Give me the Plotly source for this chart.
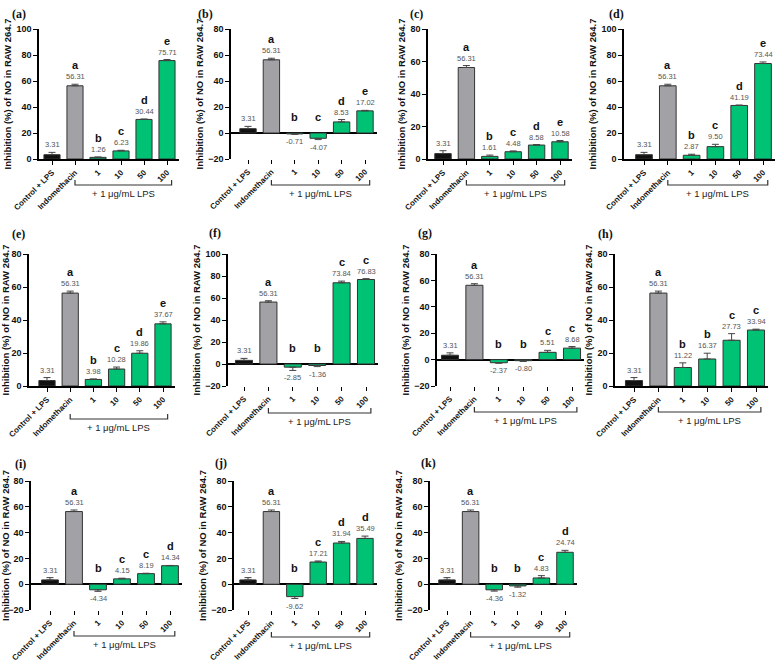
import plotly.graph_objects as go

categories = ["Control + LPS", "Indomethacin", "1", "10", "50", "100"]
panel_labels = ["(a)", "(b)", "(c)", "(d)", "(e)", "(f)", "(g)", "(h)", "(i)", "(j)", "(k)"]

values_a = [3.31, 56.31, 1.26, 6.23, 30.44, 75.71]
values_b = [3.31, 56.31, -0.71, -4.07, 8.53, 17.02]
values_c = [3.31, 56.31, 1.61, 4.48, 8.58, 10.58]
values_d = [3.31, 56.31, 2.87, 9.50, 41.19, 73.44]
values_e = [3.31, 56.31, 3.98, 10.28, 19.86, 37.67]
values_f = [3.31, 56.31, -2.85, -1.36, 73.84, 76.83]
values_g = [3.31, 56.31, -2.37, -0.80, 5.51, 8.68]
values_h = [3.31, 56.31, 11.22, 16.37, 27.73, 33.94]
values_i = [3.31, 56.31, -4.34, 4.15, 8.19, 14.34]
values_j = [3.31, 56.31, -9.62, 17.21, 31.94, 35.49]
values_k = [3.31, 56.31, -4.36, -1.32, 4.83, 24.74]

errors_a = [1.8, 1.2, 0.3, 0.5, 0.3, 0.8]
errors_b = [1.8, 1.2, 0.3, 1.0, 1.8, 0.4]
errors_c = [1.8, 1.2, 0.8, 0.5, 0.3, 0.8]
errors_d = [1.8, 1.2, 0.8, 1.8, 0.3, 1.2]
errors_e = [1.8, 1.2, 0.3, 1.2, 1.5, 1.2]
errors_f = [1.8, 1.2, 3.0, 1.0, 1.5, 0.8]
errors_g = [1.8, 1.2, 0.4, 0.6, 1.5, 1.2]
errors_h = [1.8, 1.2, 2.8, 3.5, 4.0, 0.5]
errors_i = [1.8, 1.2, 1.2, 0.5, 0.3, 0.2]
errors_j = [1.8, 1.2, 1.5, 0.8, 1.2, 1.8]
errors_k = [1.8, 1.2, 1.0, 1.0, 1.8, 1.5]

letters_a = ["", "a", "b", "c", "d", "e"]
letters_b = ["", "a", "b", "c", "d", "e"]
letters_c = ["", "a", "b", "c", "d", "e"]
letters_d = ["", "a", "b", "c", "d", "e"]
letters_e = ["", "a", "b", "c", "d", "e"]
letters_f = ["", "a", "b", "b", "c", "c"]
letters_g = ["", "a", "b", "b", "c", "c"]
letters_h = ["", "a", "b", "b", "c", "c"]
letters_i = ["", "a", "b", "c", "c", "d"]
letters_j = ["", "a", "b", "c", "d", "d"]
letters_k = ["", "a", "b", "b", "c", "d"]

yranges = [(0, 100), (-20, 80), (0, 80), (0, 100),
           (0, 80), (-20, 100), (-20, 80), (0, 80),
           (-20, 80), (-20, 80), (-20, 80)]

all_values = [values_a, values_b, values_c, values_d, values_e, values_f,
              values_g, values_h, values_i, values_j, values_k]
all_errors = [errors_a, errors_b, errors_c, errors_d, errors_e, errors_f,
              errors_g, errors_h, errors_i, errors_j, errors_k]
all_letters = [letters_a, letters_b, letters_c, letters_d, letters_e, letters_f,
               letters_g, letters_h, letters_i, letters_j, letters_k]

# layout geometry (pixels): axis_x, first bar centre, bar spacing, top, bottom
W, H = 783, 665
geom = [(39, 52, 23.0, 29, 159), (231, 248, 23.4, 29, 159), (428, 443, 23.4, 29, 159), (624, 644, 23.8, 29, 159),
        (29, 47, 23.2, 254, 386), (228, 244, 24.4, 254, 386), (437, 450, 24.4, 254, 386), (615, 634, 24.4, 254, 386),
        (31, 50, 24.0, 481, 610), (234, 248, 23.4, 481, 610), (430, 447, 23.6, 481, 610)]
label_pos = [(19, 14), (205, 14), (416, 14), (616, 14),
             (18, 234), (215, 233), (425, 233), (605, 234),
             (20, 464), (221, 463), (428, 463)]
bracket_off = [26, 26, 26, 26, 33, 27, 26, 26, 26, 27, 27]

colors = ["#111111", "#a2a2a6", "#00c274", "#00c274", "#00c274", "#00c274"]
FONT = "Liberation Sans, Arial, sans-serif"

fig = go.Figure()
annotations = []
shapes = []

for i in range(11):
    n = "" if i == 0 else str(i + 1)
    xa, ya = "x" + n, "y" + n
    axis_x, xc, s, top, bot = geom[i]
    lo = (axis_x - xc) / s
    right = xc + 5.5 * s
    vals, errs, lets = all_values[i], all_errors[i], all_letters[i]
    up = [e if v >= 0 else 0 for v, e in zip(vals, errs)]
    dn = [0 if v >= 0 else e for v, e in zip(vals, errs)]
    fig.add_trace(go.Bar(
        x=categories, y=vals, xaxis=xa, yaxis=ya, width=0.7,
        marker=dict(color=colors, line=dict(color="#333333", width=1)),
        error_y=dict(type="data", array=up, arrayminus=dn, symmetric=False,
                     color="#444444", thickness=1, width=3.5),
        showlegend=False, hoverinfo="x+y"))
    ymin, ymax = yranges[i]
    fig.layout["xaxis" + n] = dict(
        domain=[axis_x / W, right / W], anchor=ya, range=[lo, 5.5],
        type="category", tickangle=-45, showline=(ymin == 0), automargin=False,
        linecolor="black", linewidth=1.5, ticks="outside", ticklen=4,
        tickwidth=1.2, tickcolor="black", showgrid=False, zeroline=False,
        tickfont=dict(family=FONT, size=8, color="#111", weight="bold"))
    fig.layout["yaxis" + n] = dict(
        domain=[1 - bot / H, 1 - top / H], anchor=xa, range=[ymin, ymax], automargin=False,
        dtick=20, showline=True, linecolor="black", linewidth=1.5,
        ticks="outside", ticklen=4, tickwidth=1.2, tickcolor="black",
        showgrid=False, zeroline=(ymin < 0), zerolinecolor="black", zerolinewidth=1.5,
        tickfont=dict(family=FONT, size=9, color="#111", weight="bold"),
        title=dict(text="Inhibition (%) of NO in RAW 264.7", standoff=3,
                   font=dict(family=FONT, size=9.5, color="#111", weight="bold")))
    for j, (v, e, l) in enumerate(zip(vals, errs, lets)):
        txt = f"{v:.2f}"
        if v >= 0:
            annotations.append(dict(x=j, y=v + e, xref=xa, yref=ya, text=txt, showarrow=False,
                                    yanchor="bottom", yshift=1,
                                    font=dict(family=FONT, size=7.5, color="#555")))
            if l:
                annotations.append(dict(x=j, y=v + e, xref=xa, yref=ya, text=l, showarrow=False,
                                        yanchor="bottom", yshift=11,
                                        font=dict(family=FONT, size=11, color="#111", weight="bold")))
        else:
            annotations.append(dict(x=j, y=v - e, xref=xa, yref=ya, text=txt, showarrow=False,
                                    yanchor="top", yshift=-1,
                                    font=dict(family=FONT, size=7.5, color="#555")))
            if l:
                annotations.append(dict(x=j, y=0, xref=xa, yref=ya, text=l, showarrow=False,
                                        yanchor="bottom", yshift=8,
                                        font=dict(family=FONT, size=11, color="#111", weight="bold")))
    # bracket "+ 1 ug/mL LPS"
    yb = 1 - (bot + bracket_off[i]) / H
    ytk = 1 - (bot + bracket_off[i] - 5) / H
    shapes.append(dict(type="path", xref=xa, yref="paper",
                       path=f"M 1,{ytk} L 1,{yb} L 5.2,{yb} L 5.2,{ytk}",
                       line=dict(color="#333", width=1.2)))
    annotations.append(dict(x=3.1, y=yb, xref=xa, yref="paper", text="+ 1 μg/mL LPS",
                            showarrow=False, yanchor="top", yshift=-1,
                            font=dict(family=FONT, size=9.5, color="#222")))
    lx, ly = label_pos[i]
    annotations.append(dict(x=lx / W, y=1 - ly / H, xref="paper", yref="paper",
                            xanchor="center", yanchor="middle",
                            text=panel_labels[i], showarrow=False,
                            font=dict(family="Liberation Serif, Times New Roman, serif", size=12,
                                      color="#111", weight="bold")))

fig.update_layout(width=W, height=H, margin=dict(l=0, r=0, t=0, b=0),
                  plot_bgcolor="white", paper_bgcolor="white",
                  annotations=annotations, shapes=shapes, bargap=0.3)
fig.write_html("out.html")
